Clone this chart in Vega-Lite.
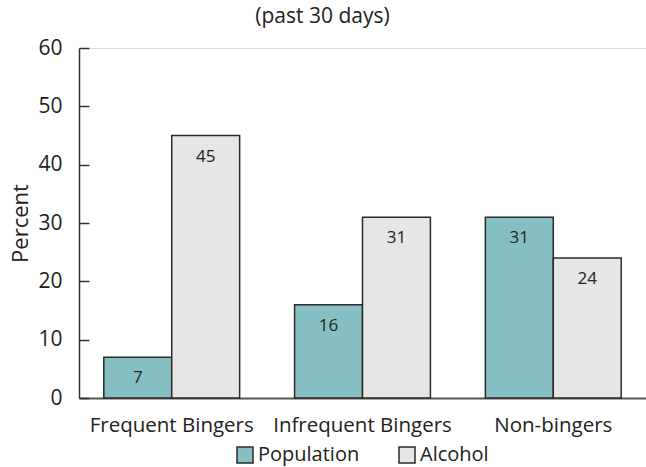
{
  "$schema": "https://vega.github.io/schema/vega-lite/v6.json",
  "width": 567,
  "height": 350,
  "autosize": {"type": "none"},
  "padding": {"left": 79, "top": 48, "right": 0, "bottom": 69},
  "background": "white",
  "title": {
    "text": "(past 30 days)",
    "anchor": "middle",
    "frame": "group",
    "dx": -40,
    "offset": 10,
    "fontSize": 21,
    "fontWeight": "normal",
    "font": "Open Sans",
    "color": "#222222"
  },
  "data": {
    "values": [
      {"group": "Frequent Bingers", "series": "Population", "value": 7},
      {"group": "Frequent Bingers", "series": "Alcohol", "value": 45},
      {"group": "Infrequent Bingers", "series": "Population", "value": 16},
      {"group": "Infrequent Bingers", "series": "Alcohol", "value": 31},
      {"group": "Non-bingers", "series": "Population", "value": 31},
      {"group": "Non-bingers", "series": "Alcohol", "value": 24}
    ]
  },
  "encoding": {
    "x": {
      "field": "group",
      "type": "nominal",
      "sort": ["Frequent Bingers", "Infrequent Bingers", "Non-bingers"],
      "scale": {"paddingInner": 0.288, "paddingOuter": 0.13},
      "axis": {
        "title": null,
        "labelAngle": 0,
        "ticks": false,
        "labelPadding": 17,
        "labelFontSize": 20.5,
        "labelFont": "Open Sans",
        "labelColor": "#222222",
        "domainColor": "#555555",
        "domainWidth": 2
      }
    },
    "xOffset": {
      "field": "series",
      "type": "nominal",
      "sort": ["Population", "Alcohol"],
      "scale": {"paddingInner": 0, "paddingOuter": 0}
    },
    "y": {
      "field": "value",
      "type": "quantitative",
      "scale": {"domain": [0, 60]},
      "axis": {
        "title": "Percent",
        "values": [0, 10, 20, 30, 40, 50, 60],
        "grid": false,
        "tickSize": -10,
        "tickColor": "#333333",
        "tickWidth": 1.5,
        "labelPadding": 27,
        "labelFontSize": 21,
        "labelFont": "Open Sans",
        "labelColor": "#222222",
        "domainColor": "#333333",
        "domainWidth": 1.5,
        "titleFontSize": 22,
        "titleFont": "Open Sans",
        "titleFontWeight": "normal",
        "titleColor": "#222222",
        "titlePadding": 5
      }
    }
  },
  "layer": [
    {
      "mark": {"type": "bar", "stroke": "#2b2b2b", "strokeWidth": 1.5},
      "encoding": {
        "color": {
          "field": "series",
          "type": "nominal",
          "sort": ["Population", "Alcohol"],
          "scale": {"domain": ["Population", "Alcohol"], "range": ["#86bfc3", "#e6e6e6"]},
          "legend": {
            "title": null,
            "orient": "none",
            "direction": "horizontal",
            "legendX": 156,
            "legendY": 397,
            "symbolType": "square",
            "symbolSize": 256,
            "symbolStrokeColor": "#2b2b2b",
            "symbolStrokeWidth": 1.5,
            "symbolOpacity": 1,
            "labelFontSize": 20,
            "labelFont": "Open Sans",
            "labelColor": "#222222",
            "labelOffset": 3,
            "columnPadding": 36
          }
        }
      }
    },
    {
      "mark": {"type": "text", "baseline": "middle", "dy": 21, "fontSize": 17, "font": "Open Sans", "color": "#222222"},
      "encoding": {
        "text": {"field": "value", "type": "quantitative"}
      }
    }
  ]
}
